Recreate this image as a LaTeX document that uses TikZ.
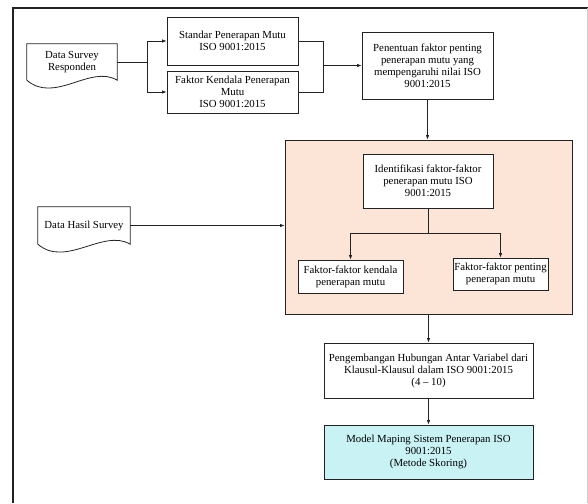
\documentclass[tikz,border=0pt]{standalone}
\usepackage{fontspec}
\setmainfont{Liberation Serif}
\usetikzlibrary{arrows.meta,calc}
\definecolor{peach}{HTML}{FCE4D6}
\definecolor{aqua}{HTML}{C9F2F4}
\definecolor{ink}{HTML}{222222}
\begin{document}
\begin{tikzpicture}[x=1pt,y=-1pt,
  box/.style={draw=ink, line width=0.8pt, fill=white, align=center, inner sep=0.5pt,
    font=\fontsize{10.8}{12}\selectfont},
  docbox/.style={align=center, inner sep=1pt, font=\fontsize{10.8}{12.5}\selectfont},
  arr/.style={-{Latex[length=4.5pt,width=3.5pt]}, line width=0.8pt, draw=ink},
  ln/.style={line width=0.8pt, draw=ink}]
\useasboundingbox (0,0) rectangle (588,503);
% outer frame
\draw[line width=1.3pt, ink] (13,503) -- (13,8) -- (588,8);
\draw[black!20, line width=0.6pt] (587,8) -- (587,503);

% group region
\node[draw=ink, line width=0.8pt, fill=peach, minimum width=287pt, minimum height=174pt, inner sep=0pt] (grp) at (428.5,227) {};

% documents
\node[docbox, minimum width=90pt, minimum height=36pt] (dsr) at (72,62) {Data Survey\\Responden};
\draw[ln] (dsr.south west) -- (dsr.north west) -- (dsr.north east) -- (dsr.south east)
  .. controls +(-27,-16) and +(28,24) .. (dsr.south west);
\node[docbox, minimum width=92pt, minimum height=37pt] (dhs) at (84,225.5) {Data Hasil Survey};
\draw[ln] (dhs.south west) -- (dhs.north west) -- (dhs.north east) -- (dhs.south east)
  .. controls +(-27,-16) and +(28,24) .. (dhs.south west);

% boxes
\node[box, minimum width=131pt, minimum height=48pt] (std) at (232.5,41) {Standar Penerapan Mutu\\ISO 9001:2015};
\node[box, minimum width=131pt, minimum height=42pt] (fkp) at (232.5,92) {Faktor Kendala Penerapan\\Mutu\\ISO 9001:2015};
\node[box, minimum width=131pt, minimum height=67pt] (pen) at (427.5,65.5) {Penentuan faktor penting\\penerapan mutu yang\\mempengaruhi nilai ISO\\9001:2015};
\node[box, minimum width=130pt, minimum height=54pt] (idn) at (428,181) {Identifikasi faktor-faktor\\penerapan mutu ISO\\9001:2015};
\node[box, minimum width=105pt, minimum height=33pt] (fk1) at (350.5,276.5) {Faktor-faktor kendala\\penerapan mutu};
\node[box, minimum width=95pt, minimum height=32pt] (fk2) at (500.5,274) {Faktor-faktor penting\\penerapan mutu};
\node[box, minimum width=209pt, minimum height=55pt] (peng) at (428.5,370.5) {Pengembangan Hubungan Antar Variabel dari\\Klausul-Klausul dalam ISO 9001:2015\\(4 -- 10)};
\node[box, fill=aqua, minimum width=209pt, minimum height=54pt] (model) at (428.5,452) {Model Maping Sistem Penerapan ISO\\9001:2015\\(Metode Skoring)};

% connectors
\coordinate (f1) at (147,62);
\draw[ln] (dsr.east) -- (f1);
\draw[arr] (f1) |- (std.west);
\draw[arr] (f1) |- (fkp.west);
\coordinate (f2) at (323,65.5);
\draw[ln] (std.east) -| (f2);
\draw[ln] (fkp.east) -| (f2);
\draw[arr] (f2) -- (pen.west);
\draw[arr] (pen.south) -- (pen.south |- grp.north);
\draw[arr] (dhs.east) -- (grp.west |- dhs.east);
\coordinate (f3) at (428,233);
\draw[ln] (idn.south) -- (f3);
\draw[arr] (f3) -| (fk1.north);
\draw[arr] (f3) -| (fk2.north);
\draw[arr] (grp.south) -- (peng.north);
\draw[arr] (peng.south) -- (model.north);
\end{tikzpicture}
\end{document}
